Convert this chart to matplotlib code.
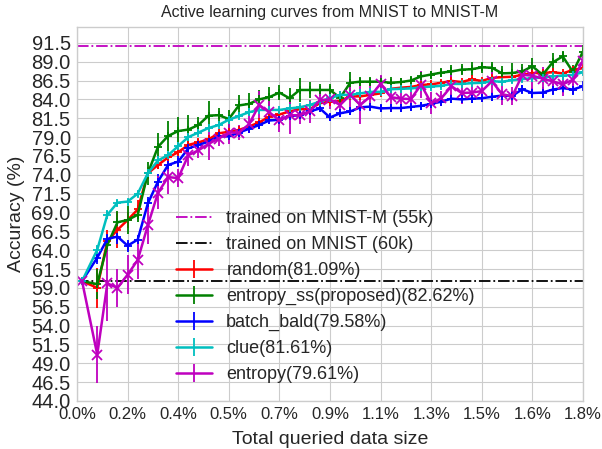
import numpy as np
import matplotlib
matplotlib.use("Agg")
import matplotlib.pyplot as plt
from matplotlib.container import ErrorbarContainer
from matplotlib.legend_handler import HandlerErrorbar

plt.style.use("seaborn-v0_8-whitegrid")
plt.rcParams['font.family'] = ['Liberation Sans', 'DejaVu Sans']

# queried samples (out of 55000 MNIST-M training images)
samples = [10] + list(range(40, 1001, 20))
pool_size = 55000

mnistm_acc = 91.1
mnist_acc = 59.95

random_acc = [59.9, 59.0, 65.2, 66.7, 68.0, 69.4, 74.2, 75.3, 76.3, 77.0,
              77.96, 78.3, 78.7, 79.5, 79.7, 79.95, 80.4, 80.95, 81.7, 82.0,
              82.4, 82.7, 82.7, 83.5, 83.7, 83.8, 84.4, 84.4, 84.6, 84.8,
              85.4, 85.55, 85.65, 85.9, 86.0, 86.2, 86.45, 86.3, 86.65, 86.45,
              86.85, 86.95, 87.0, 87.25, 87.5, 87.5, 87.6, 87.45, 87.9, 88.15]
random_err = [0.2, 2.7, 1.5, 2.4, 1.0, 1.2, 0.8, 0.5, 0.5, 0.4,
              0.5, 0.4, 0.4, 0.3, 0.3, 0.3, 0.3, 0.3, 0.3, 0.3,
              0.4, 0.3, 0.3, 0.4, 0.3, 0.3, 0.4, 0.3, 0.3, 0.3,
              0.4, 0.3, 0.3, 0.3, 0.3, 0.3, 0.4, 0.3, 0.3, 0.3,
              0.3, 0.3, 0.3, 0.3, 0.3, 0.3, 0.3, 0.3, 0.3, 0.3]

entropy_ss_acc = [59.9, 59.5, 64.7, 67.7, 68.0, 68.7, 74.2, 77.7, 79.15, 79.8,
                  80.0, 80.6, 81.85, 81.9, 81.4, 83.2, 83.4, 84.0, 84.3, 84.9,
                  84.15, 85.25, 85.25, 85.25, 85.25, 84.2, 86.2, 86.35, 86.35, 86.35,
                  86.2, 86.3, 86.5, 87.05, 87.3, 87.55, 87.7, 87.95, 88.0, 88.25,
                  88.2, 87.45, 87.5, 87.7, 88.4, 87.25, 88.9, 89.7, 87.65, 90.35]
entropy_ss_err = [0.2, 2.0, 1.0, 1.5, 1.9, 1.0, 1.5, 1.8, 2.0, 1.8,
                  1.9, 1.0, 2.0, 1.0, 1.2, 1.4, 1.5, 1.2, 1.3, 1.0,
                  1.4, 1.6, 1.0, 0.8, 0.8, 0.9, 1.4, 0.6, 0.6, 0.8,
                  0.8, 0.6, 0.6, 0.6, 0.5, 0.6, 0.9, 0.7, 0.9, 0.7,
                  0.8, 1.0, 1.3, 1.0, 1.1, 0.7, 1.3, 0.7, 0.9, 0.8]

batch_bald_acc = [59.9, 63.0, 65.5, 65.8, 64.6, 65.4, 70.2, 73.1, 75.3, 75.75,
                  77.5, 77.96, 78.4, 79.1, 79.1, 79.6, 80.1, 80.6, 81.2, 81.3,
                  81.8, 81.9, 82.4, 82.8, 81.6, 82.16, 82.4, 82.95, 83.04, 82.8,
                  82.85, 82.85, 83.0, 83.15, 83.4, 83.7, 84.1, 84.0, 84.1, 84.15,
                  84.35, 84.5, 84.45, 85.35, 84.85, 84.9, 85.3, 85.5, 85.3, 85.75]
batch_bald_err = [0.2, 0.8, 0.6, 1.0, 0.8, 0.6, 0.8, 1.0, 0.8, 0.7,
                  0.6, 0.5, 0.5, 0.5, 0.5, 0.5, 0.5, 0.5, 0.5, 0.5,
                  0.5, 0.5, 0.5, 0.5, 0.5, 0.5, 0.5, 0.5, 0.5, 0.5,
                  0.5, 0.5, 0.5, 0.5, 0.5, 0.5, 0.6, 0.5, 0.6, 0.5,
                  0.6, 0.6, 0.6, 0.6, 0.7, 0.7, 0.7, 0.7, 0.7, 0.7]

clue_acc = [59.9, 64.06, 68.7, 70.3, 70.45, 71.5, 74.2, 75.9, 76.6, 77.8,
            79.0, 79.6, 80.2, 80.6, 81.3, 81.8, 82.3, 82.6, 82.6, 82.6,
            82.8, 82.95, 83.26, 83.7, 84.15, 84.6, 84.6, 84.8, 85.0, 85.0,
            85.35, 85.4, 85.45, 85.6, 85.7, 85.8, 86.05, 86.05, 86.15, 86.2,
            86.4, 86.35, 86.55, 86.7, 86.8, 86.9, 87.05, 87.15, 87.25, 87.6]
clue_err = [0.2, 0.6, 0.6, 0.4, 0.4, 0.4, 0.4, 0.4, 0.4, 0.3,
            0.3, 0.3, 0.3, 0.3, 0.3, 0.3, 0.3, 0.3, 0.3, 0.3,
            0.3, 0.3, 0.3, 0.3, 0.3, 0.3, 0.3, 0.3, 0.3, 0.3,
            0.3, 0.3, 0.3, 0.3, 0.3, 0.3, 0.3, 0.3, 0.3, 0.3,
            0.3, 0.3, 0.3, 0.3, 0.3, 0.3, 0.3, 0.3, 0.3, 0.3]

entropy_acc = [59.9, 50.15, 59.6, 59.0, 60.75, 62.7, 67.3, 71.6, 73.7, 73.55,
               76.6, 77.25, 78.1, 78.8, 79.6, 79.6, 80.7, 83.26, 82.3, 81.2,
               81.9, 81.9, 82.4, 83.9, 84.0, 83.26, 84.6, 83.26, 84.4, 86.1,
               84.3, 84.1, 84.05, 85.95, 83.5, 84.15, 85.75, 84.85, 84.9, 85.1,
               86.4, 84.7, 84.4, 87.25, 87.15, 86.75, 86.4, 86.0, 86.6, 89.1]
entropy_err = [0.2, 3.8, 5.0, 2.5, 2.6, 2.5, 2.5, 2.2, 2.2, 1.2,
               1.5, 1.0, 2.2, 1.0, 1.5, 1.0, 1.2, 1.8, 1.5, 1.5,
               2.5, 1.2, 1.5, 1.5, 1.3, 1.5, 2.0, 2.5, 1.5, 1.2,
               2.0, 1.5, 1.2, 1.8, 1.5, 1.0, 1.5, 1.5, 1.0, 1.5,
               1.5, 1.5, 1.2, 1.0, 1.8, 1.5, 1.5, 1.5, 1.8, 1.0]

series = [
    ("random(81.09%)", random_acc, random_err, 'r', '+'),
    ("entropy_ss(proposed)(82.62%)", entropy_ss_acc, entropy_ss_err, 'g', '+'),
    ("batch_bald(79.58%)", batch_bald_acc, batch_bald_err, 'b', '+'),
    ("clue(81.61%)", clue_acc, clue_err, 'c', '+'),
    ("entropy(79.61%)", entropy_acc, entropy_err, 'm', 'x'),
]

x = np.array(samples) / pool_size * 100

fig = plt.figure(figsize=(6.02, 4.49), dpi=100)
ax = fig.add_axes([77/602, 1-401/449, (583-77)/602, (401-27)/449])

ax.axhline(mnistm_acc, color='m', linestyle='-.', lw=1.3, label='trained on MNIST-M (55k)')
ax.axhline(mnist_acc, color='k', linestyle='-.', lw=1.3, label='trained on MNIST (60k)')

for label, acc, err, col, mk in series:
    ax.errorbar(x, acc, yerr=err, color=col, marker=mk, markersize=7 if mk == 'x' else 6,
                mew=1.3, lw=1.8, elinewidth=1.3, capsize=0, label=label)

xmax = 1000 / pool_size * 100
xt = np.linspace(0, xmax, 11)
ax.set_xticks(xt)
ax.set_xticklabels([f"{v:.1f}%" for v in xt], fontsize=12)
yt = np.arange(44, 92, 2.5)
ax.set_yticks(yt)
ax.set_yticklabels([f"{v:.1f}" for v in yt], fontsize=14.5)
ax.set_xlim(0, xmax)
ax.set_ylim(44, 93.6)
ax.tick_params(axis='x', pad=4)
ax.tick_params(axis='y', pad=4.5)

ax.set_xlabel('Total queried data size', fontsize=14, labelpad=7)
ax.set_ylabel('Accuracy (%)', fontsize=14, labelpad=4.5)
ax.set_title('Active learning curves from MNIST to MNIST-M', fontsize=11.5, pad=7)


def _nomarker(leg_handle, orig):
    leg_handle.update_from(orig)
    if hasattr(leg_handle, 'set_marker'):
        leg_handle.set_marker('None')


ax.legend(loc='center left', bbox_to_anchor=(0.163, 0.279), fontsize=13.0, frameon=False,
          handler_map={ErrorbarContainer: HandlerErrorbar(update_func=_nomarker)},
          labelspacing=0.49)

fig.savefig('out.png', dpi=100)
